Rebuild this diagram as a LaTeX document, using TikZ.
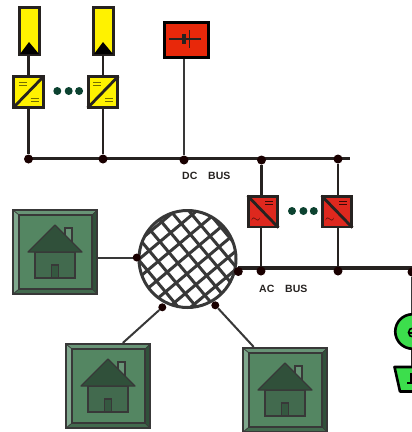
\documentclass[tikz,border=0pt]{standalone}
\usepackage{fontspec}
\setsansfont{Liberation Sans}
\usetikzlibrary{positioning}
\pgfdeclarelayer{edgelayer}
\pgfsetlayers{edgelayer,main}
\definecolor{panelyellow}{RGB}{255,242,0}
\definecolor{batred}{RGB}{232,40,10}
\definecolor{convred}{RGB}{222,40,30}
\definecolor{dotgreen}{RGB}{12,66,48}
\definecolor{linegrey}{RGB}{38,34,32}
\definecolor{meshgrey}{RGB}{56,56,56}
\definecolor{houseface}{RGB}{84,134,98}
\definecolor{houselight}{RGB}{128,168,142}
\definecolor{housetop}{RGB}{104,148,118}
\definecolor{housedark}{RGB}{48,80,58}
\definecolor{housemid}{RGB}{66,106,78}
\definecolor{genegreen}{RGB}{60,222,76}
\tikzset{font=\footnotesize}
\tikzstyle{bus}=[line width=3.2pt,draw=linegrey]
\tikzstyle{wire}=[line width=2.8pt,draw=linegrey]
\tikzstyle{thin wire}=[line width=2pt,draw=meshgrey]
\tikzstyle{circ}=[circle,fill=black!90!red,inner sep=0pt,minimum size=9pt]
\tikzstyle{ell}=[circle,fill=dotgreen,inner sep=0pt,minimum size=8pt]
\tikzstyle{buslabel}=[font=\sffamily\bfseries\fontsize{10.5pt}{12pt}\selectfont,text=linegrey,inner sep=0pt]
\tikzstyle{panel}=[draw=linegrey,line width=2.6pt,fill=panelyellow,minimum width=20.5pt,minimum height=47.5pt,inner sep=0pt]
\tikzstyle{conv}=[draw=linegrey,line width=2.8pt,minimum width=29.5pt,minimum height=30.5pt,inner sep=0pt]
\tikzstyle{housebox}=[draw=meshgrey,line width=1.2pt,fill=houseface,minimum width=85pt,minimum height=85pt,inner sep=0pt]
% house icon in a bevelled box, #1 is the node
\newcommand{\house}[1]{
\begin{scope}[shift={(#1.center)}]
\fill[houselight] (-42,-42) -- (-36,-37) -- (-36,37) -- (-42,42) -- cycle;
\fill[housetop] (-42,-42) -- (42,-42) -- (37,-37) -- (-36,-37) -- cycle;
\fill[housedark] (42,-42) -- (37,-37) -- (37,37) -- (42,42) -- cycle;
\fill[housemid] (-42,42) -- (42,42) -- (37,37) -- (-36,37) -- cycle;
\draw[meshgrey,line width=1.2pt] (-42,-42) rectangle (42,42);
\draw[meshgrey,line width=1.2pt] (-36,-37) rectangle (37,37);
\draw[meshgrey,line width=.7pt] (-42,-42) -- (-36,-37) (42,-42) -- (37,-37) (42,42) -- (37,37) (-42,42) -- (-36,37);
\draw[meshgrey,line width=1.2pt,fill=housetop] (10,-24) rectangle (17,-6);
\draw[meshgrey,line width=1.2pt,fill=housemid] (-20,0) rectangle (20,26);
\draw[meshgrey,line width=1.2pt,fill=housedark!70!housemid] (-3.5,13) rectangle (3.5,26);
\draw[meshgrey,line width=1.2pt,fill=housedark,line join=round] (-27,0) -- (0,-27) -- (27,0) -- cycle;
\end{scope}
}
% up-right converter, = at both ends
\newcommand{\dcdc}[1]{
\draw[linegrey,line width=2.8pt,shorten <=1pt,shorten >=1pt] (#1.south west) -- (#1.north east);
\draw[black!55!panelyellow,line width=1pt] ([shift={(6.5,7)}]#1.north west) -- +(8,0) ([shift={(6.5,10)}]#1.north west) -- +(8,0);
\draw[black!55!panelyellow,line width=1pt] ([shift={(-14,-10)}]#1.south east) -- +(8,0) ([shift={(-14,-7)}]#1.south east) -- +(8,0);
}
% down-right converter, = on top and ~ below
\newcommand{\dcac}[1]{
\draw[linegrey,line width=2.8pt,shorten <=1pt,shorten >=1pt] (#1.north west) -- (#1.south east);
\draw[black!75!convred,line width=1pt] ([shift={(-14,6)}]#1.north east) -- +(8,0) ([shift={(-14,9)}]#1.north east) -- +(8,0);
\node[inner sep=0pt,text=black!75!convred,font=\large] at ([shift={(9,-8)}]#1.south west) {$\sim$};
}
\begin{document}
\begin{tikzpicture}[x=1pt,y=-1pt]
\useasboundingbox (0,0) rectangle (412,432);
\node[panel] (panelA) at (29.5,31) {};
\node[panel] (panelB) at (103.5,31) {};
\fill[black] (20,54) -- (29,42) -- (39,54) -- cycle;
\fill[black] (94,54) -- (103,42) -- (113,54) -- cycle;
\node[conv,fill=panelyellow] (convA) at (28.5,92) {};
\node[conv,fill=panelyellow] (convB) at (103,92) {};
\dcdc{convA}
\dcdc{convB}
\node[draw=black,line width=2.8pt,fill=batred,minimum width=44pt,minimum height=35.5pt,inner sep=0pt] (bat) at (186.5,40) {};
\draw[linegrey,line width=1.2pt] (169,39) -- (201,39);
\draw[linegrey,line width=3.5pt] (184,34) -- (184,44);
\draw[linegrey,line width=1.6pt] (189.5,30) -- (189.5,48);
\node[conv,fill=convred] (convC) at (263,211.7) {};
\node[conv,fill=convred] (convD) at (337,211.7) {};
\dcac{convC}
\dcac{convD}
\node[housebox] (homeA) at (55,252) {};
\node[housebox] (homeB) at (108,386) {};
\node[housebox] (homeC) at (285,390) {};
\house{homeA}
\house{homeB}
\house{homeC}
\coordinate (dcR) at (350,158.5);
\coordinate (acR) at (412,268);
\node[circ] (d1) at (28.5,159) {};
\node[circ] (d2) at (103,159) {};
\node[circ] (d3) at (184,160) {};
\node[circ] (d4) at (261.5,160) {};
\node[circ] (d5) at (338,159) {};
\node[circ] (a1) at (261,271) {};
\node[circ] (a2) at (338,271) {};
\node[circ] (a4) at (412,272) {};
% the grid with its hatching
\node[circle,fill=white,minimum size=97pt,inner sep=0pt] (grid) at (187.5,259) {};
\begin{scope}
\clip (grid) circle (48.5pt);
\begin{scope}[shift={(grid.center)},rotate=40]
\foreach \k in {-4,...,4}{
\draw[meshgrey,line width=3pt] (-60,\k*14-3) -- (60,\k*14-3);
\draw[meshgrey,line width=3pt] (\k*14+4,-60) -- (\k*14+4,60);
}
\end{scope}
\end{scope}
\node[circle,draw=meshgrey,line width=3pt,minimum size=97pt,inner sep=0pt] at (grid) {};
\node[circ] (a3) at (238.3,271.5) {};
\node[circ,minimum size=8pt] (g1) at (136.7,257.5) {};
\node[circ,minimum size=8pt] (g2) at (162.3,307.3) {};
\node[circ,minimum size=8pt] (g3) at (215.3,305.3) {};
\node[circle,draw=black,line width=2.6pt,fill=genegreen,minimum size=34.5pt,inner sep=0pt] (gen) at (412.5,331.5) {};
\draw[black,line width=1.6pt] (413,328) arc (270:90:4.5) (409,333) -- (413,333);
\coordinate (potT) at (412,367);
\begin{pgfonlayer}{edgelayer}
\draw[bus] (d1 |- dcR) -- (dcR);
\draw[bus] (a3 |- acR) -- (acR);
\draw[wire] (convA) -- (convA |- panelA.south);
\draw[wire] (convB) -- (convB |- panelB.south);
\draw[wire] (convA) -- (d1);
\draw[wire] (convB) -- (d2);
\draw[thin wire] (d3 |- bat.south) -- (d3);
\draw[wire] (d4) -- (d4 |- convC.north);
\draw[wire] (d5) -- (d5 |- convD.north);
\draw[wire] (a1 |- convC.south) -- (a1);
\draw[wire] (a2 |- convD.south) -- (a2);
\draw[thin wire] (a4) -- (a4 |- gen.north);
\draw[wire] (a4 |- gen.south) -- (potT);
\draw[thin wire] (homeA.east |- g1) -- (g1);
\draw[thin wire] (g2) -- (homeB.71);
\draw[thin wire] (g3) -- (homeC.126);
\end{pgfonlayer}
% dots for the repeated units
\node[ell] (e1) at (57.3,91) {};
\node[ell,right=3pt of e1] (e2) {};
\node[ell,right=2pt of e2] (e3) {};
\node[ell] (e4) at (292,211) {};
\node[ell,right=3pt of e4] (e5) {};
\node[ell,right=2pt of e5] (e6) {};
\node[buslabel,anchor=west] (dclabel) at (182,175.5) {DC};
\node[buslabel,anchor=west] (dcbus) at (208,175.5) {BUS};
\node[buslabel,anchor=west] (aclabel) at (259,289) {AC};
\node[buslabel,anchor=west] (acbus) at (285,289) {BUS};
% pot at the right edge
\draw[black,line width=2.6pt,fill=genegreen,line join=round] (394.5,367) -- (415,367) -- (415,391.5) -- (400,391.5) -- cycle;
\draw[black,line width=2pt] (411,373) -- (411,382.5) -- (407,382.5) (411,382.5) -- (414,382.5);
\end{tikzpicture}
\end{document}
